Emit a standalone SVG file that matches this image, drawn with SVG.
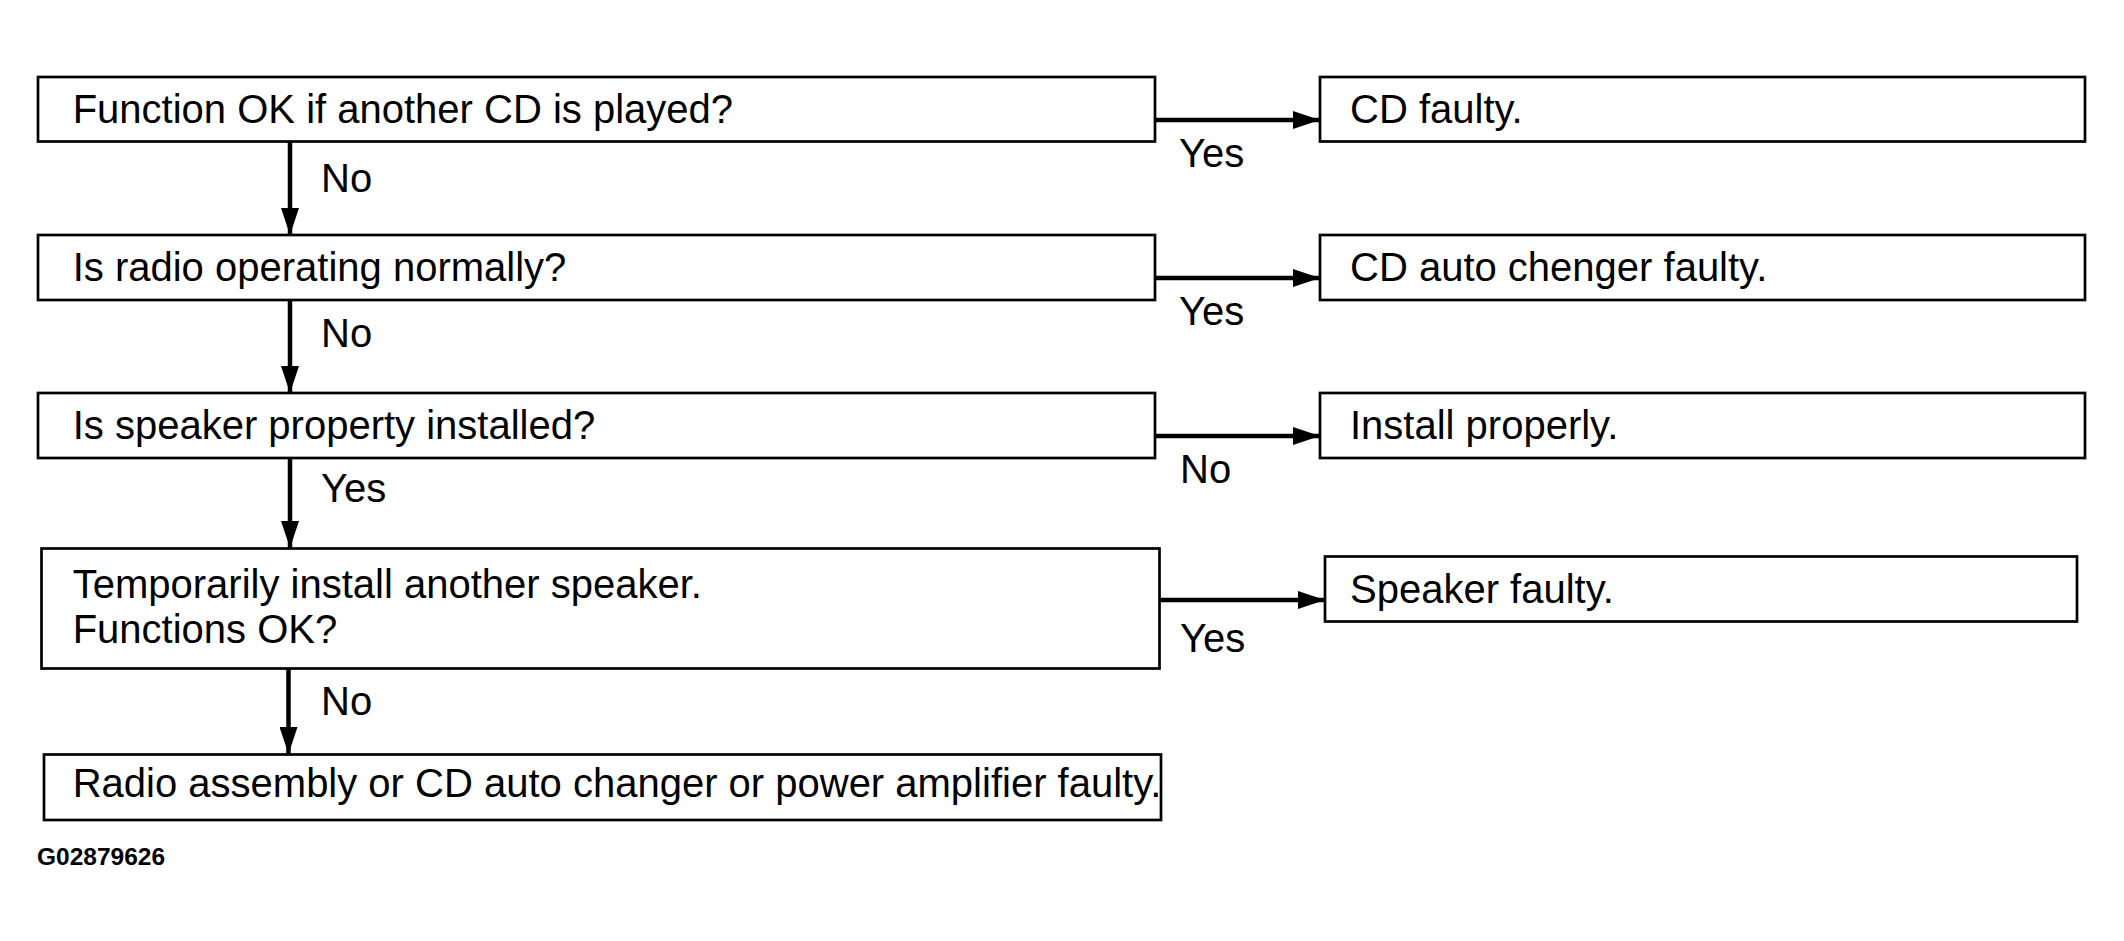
<svg xmlns="http://www.w3.org/2000/svg" width="2124" height="941" viewBox="0 0 2124 941">
<style>
.box{fill:#fff;stroke:#000;stroke-width:2.7}
.t{font-family:"Liberation Sans",Arial,sans-serif;font-size:40px;fill:#000}
.lbl{font-family:"Liberation Sans",Arial,sans-serif;font-size:40px;fill:#000}
.conn{stroke:#000;stroke-width:4.5;fill:none}
.id{font-family:"Liberation Sans",Arial,sans-serif;font-size:24.5px;font-weight:bold;fill:#000}
</style>
<defs>
<marker id="ah" markerUnits="userSpaceOnUse" markerWidth="28" markerHeight="18" refX="27" refY="9" orient="auto">
<path d="M0,0 L27,9 L0,18 Z" fill="#000"/>
</marker>
</defs>
<rect width="2124" height="941" fill="#fff"/>
<g id="connectors">
<line class="conn" x1="290" y1="142" x2="290" y2="235" marker-end="url(#ah)"/>
<line class="conn" x1="290" y1="300" x2="290" y2="393" marker-end="url(#ah)"/>
<line class="conn" x1="290" y1="458" x2="290" y2="548" marker-end="url(#ah)"/>
<line class="conn" x1="288.5" y1="668" x2="288.5" y2="754" marker-end="url(#ah)"/>
<line class="conn" x1="1155" y1="120" x2="1320" y2="120" marker-end="url(#ah)"/>
<line class="conn" x1="1155" y1="278" x2="1320" y2="278" marker-end="url(#ah)"/>
<line class="conn" x1="1155" y1="436" x2="1320" y2="436" marker-end="url(#ah)"/>
<line class="conn" x1="1159" y1="600" x2="1325" y2="600" marker-end="url(#ah)"/>
<text class="lbl" x="321" y="192">No</text>
<text class="lbl" x="321" y="347">No</text>
<text class="lbl" x="321" y="502">Yes</text>
<text class="lbl" x="321" y="715">No</text>
<text class="lbl" x="1179" y="167">Yes</text>
<text class="lbl" x="1179" y="325">Yes</text>
<text class="lbl" x="1180" y="483">No</text>
<text class="lbl" x="1180" y="652">Yes</text>
</g>
<g id="q1">
<rect class="box" x="38" y="77" width="1117" height="64.5"/>
<text class="t" x="72.7" y="123">Function OK if another CD is played?</text>
</g>
<g id="r1">
<rect class="box" x="1320" y="77" width="765" height="64.5"/>
<text class="t" x="1350" y="123">CD faulty.</text>
</g>
<g id="q2">
<rect class="box" x="38" y="235" width="1117" height="65"/>
<text class="t" x="72.7" y="281">Is radio operating normally?</text>
</g>
<g id="r2">
<rect class="box" x="1320" y="235" width="765" height="65"/>
<text class="t" x="1350" y="281">CD auto chenger faulty.</text>
</g>
<g id="q3">
<rect class="box" x="38" y="393" width="1117" height="65"/>
<text class="t" x="72.7" y="439">Is speaker property installed?</text>
</g>
<g id="r3">
<rect class="box" x="1320" y="393" width="765" height="65"/>
<text class="t" x="1350" y="439">Install properly.</text>
</g>
<g id="q4">
<rect class="box" x="41.5" y="548.5" width="1118" height="120"/>
<text class="t" x="72.7" y="598">Temporarily install another speaker.</text>
<text class="t" x="72.7" y="643">Functions OK?</text>
</g>
<g id="r4">
<rect class="box" x="1325" y="556.5" width="752" height="65"/>
<text class="t" x="1350" y="603">Speaker faulty.</text>
</g>
<g id="end">
<rect class="box" x="44" y="754.5" width="1117" height="65.5"/>
<text class="t" x="72.7" y="797">Radio assembly or CD auto changer or power amplifier faulty.</text>
</g>
<text class="id" x="37" y="865">G02879626</text>
</svg>
